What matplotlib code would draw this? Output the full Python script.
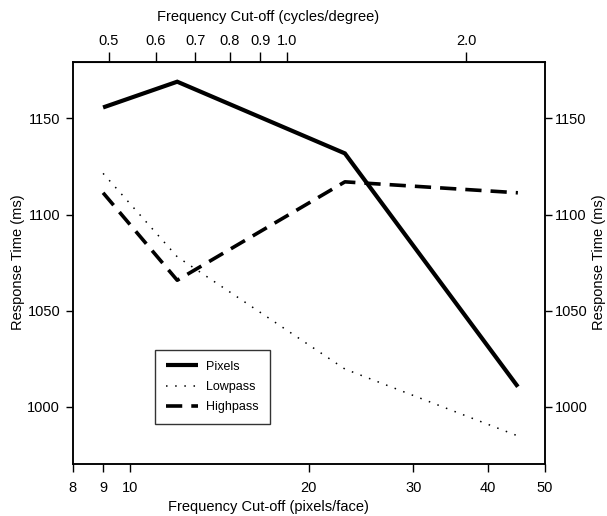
import matplotlib
matplotlib.use("Agg")
import matplotlib.pyplot as plt
import numpy as np

plt.rcParams['font.family'] = ['Liberation Sans', 'DejaVu Sans']

# Frequency cut-off in pixels per face
cutoff = [9, 12, 23, 45]
pixels = [1155.7, 1169.1, 1131.8, 1010.4]
lowpass = [1121.4, 1078.0, 1019.6, 984.8]
highpass = [1111.3, 1065.8, 1117.0, 1111.3]

bottom_ticks = [8, 9, 10, 20, 30, 40, 50]
top_ticks = [0.5, 0.6, 0.7, 0.8, 0.9, 1.0, 2.0]
top_labels = ["0.5", "0.6", "0.7", "0.8", "0.9", "1.0", "2.0"]
y_ticks = [1000, 1050, 1100, 1150]

px_per_cycle = 18.4  # pixels/face per cycle/degree

FS = 10.5

fig = plt.figure(figsize=(6.07, 5.16), dpi=100)
ax = fig.add_axes([0.1198, 0.1008, 0.7781, 0.7796])

ax.plot(cutoff, pixels, color='black', lw=3.0, solid_capstyle='butt',
        solid_joinstyle='miter', label='Pixels')
ax.plot(cutoff, lowpass, color='black', lw=1.1, linestyle=(0, (1, 5)),
        label='Lowpass')
ax.plot(cutoff, highpass, color='black', lw=2.6, linestyle=(0, (4.5, 2.5)),
        label='Highpass')

ax.set_xscale('log')
ax.set_xlim(8, 50)
ax.set_ylim(970.2, 1179.5)
ax.set_xticks(bottom_ticks)
ax.set_xticklabels([str(t) for t in bottom_ticks])
ax.xaxis.set_minor_locator(matplotlib.ticker.NullLocator())
ax.set_yticks(y_ticks)
ax.tick_params(axis='both', direction='out', length=5, width=1,
               labelsize=FS, pad=4)
ax.tick_params(axis='x', length=6, pad=6)

ax_r = ax.twinx()
ax_r.set_ylim(ax.get_ylim())
ax_r.set_yticks(y_ticks)
ax_r.tick_params(axis='y', direction='out', length=5, width=1,
                 labelsize=FS, pad=2)

top = ax.secondary_xaxis('top', functions=(lambda x: np.asarray(x) / px_per_cycle,
                                          lambda c: np.asarray(c) * px_per_cycle))
top.set_xticks(top_ticks)
top.set_xticklabels(top_labels)
top.xaxis.set_minor_locator(matplotlib.ticker.NullLocator())
top.tick_params(direction='out', length=7, width=1, labelsize=FS, pad=3)

# Axis titles, placed in figure coordinates
fig.text(268 / 607, 1 - 17 / 516, 'Frequency Cut-off (cycles/degree)',
         fontsize=FS, ha='center', va='center')
fig.text(268 / 607, 1 - 507 / 516, 'Frequency Cut-off (pixels/face)',
         fontsize=FS, ha='center', va='center')
fig.text(18 / 607, 1 - 262 / 516, 'Response Time (ms)', fontsize=FS,
         rotation=90, ha='center', va='center')
fig.text(599 / 607, 1 - 262 / 516, 'Response Time (ms)', fontsize=FS,
         rotation=90, ha='center', va='center')

for a in (ax, ax_r):
    for s in a.spines.values():
        s.set_linewidth(1.1)

leg = ax.legend(loc='lower left', bbox_to_anchor=(0.16, 0.083), fontsize=9,
                frameon=True, fancybox=False, edgecolor='black',
                handlelength=2.6, borderpad=0.9, labelspacing=0.65,
                handletextpad=0.6)
leg.get_frame().set_linewidth(1.0)

fig.savefig('out.png', dpi=100)
